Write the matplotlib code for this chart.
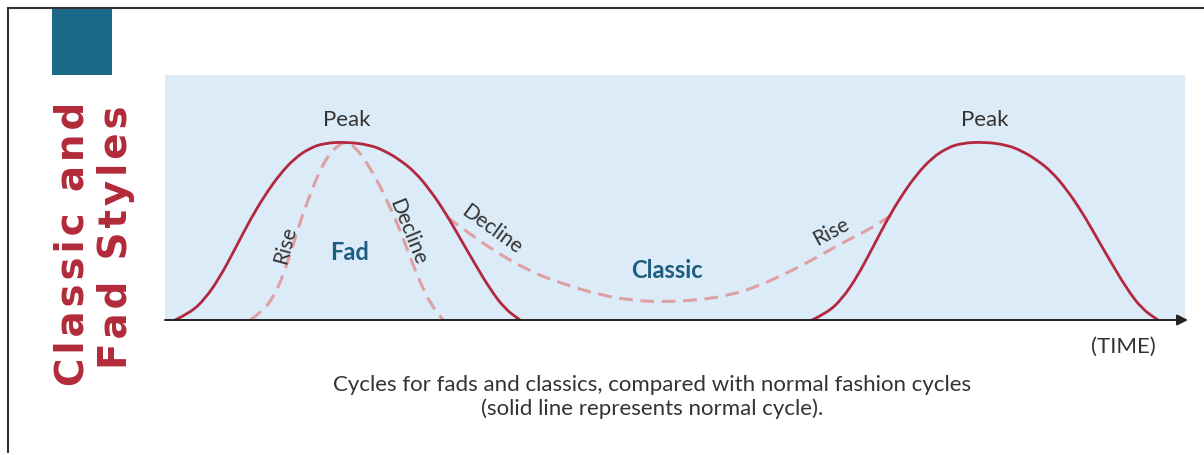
import matplotlib.pyplot as plt
from matplotlib.patches import Rectangle, PathPatch
from matplotlib.path import Path
from matplotlib.lines import Line2D

# normal cycle 1 (solid), x = time, y = level above the axis
normal1_x = [175, 190, 205, 220, 235, 250, 265, 280, 295, 310, 325, 347,
             370, 385, 400, 415, 430, 445, 460, 475, 490, 505, 520]
normal1_y = [0, 7, 21, 43, 71, 100, 125, 146, 162, 172, 177, 178,
             175, 169, 160, 148, 130, 108, 82, 56, 31, 11, 0]

# normal cycle 2 (solid)
normal2_x = [812, 827, 842, 857, 872, 887, 902, 917, 932, 947, 962, 985,
             1007, 1022, 1037, 1052, 1067, 1082, 1097, 1112, 1127, 1142, 1158]
normal2_y = [0, 7, 21, 43, 71, 100, 125, 146, 162, 172, 177, 178,
             175, 169, 160, 148, 130, 108, 82, 56, 31, 11, 0]

# fad (dashed)
fad_x = [250, 262, 275, 287, 300, 310, 320, 330, 340, 347,
         355, 365, 377, 390, 400, 410, 420, 430, 443]
fad_y = [0, 8, 25, 55, 98, 125, 150, 167, 176, 178,
         173, 160, 140, 113, 90, 63, 38, 17, 0]

# classic (dashed), leaves cycle 1 on decline, joins cycle 2 on rise
classic_x = [447, 470, 493, 527, 560, 600, 630, 660, 700, 730, 756, 785, 814, 840, 872, 893]
classic_y = [103, 86, 70, 50, 37, 25, 20, 18, 20, 25, 33, 46, 61, 76, 92, 106]

solid_col = '#b3283e'
dash_col = '#dfa0a3'
label_col = '#333333'
blue_col = '#1d5d80'
font = 'Lato'


def smooth_path(xs, ys):
    # quadratic pieces through the mid points, keeps the read points as controls
    pts = list(zip(xs, ys))
    verts = [pts[0]]
    codes = [Path.MOVETO]
    for i in range(1, len(pts) - 1):
        mid = ((pts[i][0] + pts[i + 1][0]) / 2, (pts[i][1] + pts[i + 1][1]) / 2)
        verts += [pts[i], mid]
        codes += [Path.CURVE3, Path.CURVE3]
    verts.append(pts[-1])
    codes.append(Path.LINETO)
    return Path(verts, codes)


W, H = 1204, 455
fig = plt.figure(figsize=(W / 100, H / 100), dpi=100)
fig.patch.set_facecolor('white')

# panel axes: pixels 165..1185 wide, 75..320 tall
ax = fig.add_axes([165 / W, 1 - 320 / H, 1020 / W, 245 / H])
ax.set_facecolor('#dcebf8')
ax.set_xlim(165, 1185)
ax.set_ylim(0, 245)
for s in ax.spines.values():
    s.set_visible(False)
ax.set_xticks([])
ax.set_yticks([])

for xs, ys in [(fad_x, fad_y), (classic_x, classic_y)]:
    ax.add_patch(PathPatch(smooth_path(xs, ys), fill=False, edgecolor=dash_col,
                           lw=2.2, linestyle=(0, (4.5, 2.5)), zorder=2))
for xs, ys in [(normal1_x, normal1_y), (normal2_x, normal2_y)]:
    ax.add_patch(PathPatch(smooth_path(xs, ys), fill=False, edgecolor=solid_col,
                           lw=2, zorder=3, capstyle='round'))

# time axis with arrow
ax.annotate('', xy=(1188, 0), xytext=(165, 0), annotation_clip=False,
            arrowprops=dict(arrowstyle='-|>', color='#222222', lw=1.4,
                            mutation_scale=16, shrinkA=0, shrinkB=0), zorder=4)

# labels on the curves
ax.text(347, 200, 'Peak', ha='center', va='center', fontsize=16, color=label_col, family=font)
ax.text(985, 200, 'Peak', ha='center', va='center', fontsize=16, color=label_col, family=font)
ax.text(285, 75, 'Rise', ha='center', va='center', fontsize=15, color=label_col,
        family=font, rotation=75, rotation_mode='anchor')
ax.text(350, 68, 'Fad', ha='center', va='center', fontsize=17, color=blue_col,
        family=font, weight='bold')
ax.text(408, 88, 'Decline', ha='center', va='center', fontsize=15, color=label_col,
        family=font, rotation=-68, rotation_mode='anchor')
ax.text(492, 90, 'Decline', ha='center', va='center', fontsize=15, color=label_col,
        family=font, rotation=-36, rotation_mode='anchor')
ax.text(667, 49, 'Classic', ha='center', va='center', fontsize=17, color=blue_col,
        family=font, weight='bold')
ax.text(831, 88, 'Rise', ha='center', va='center', fontsize=15, color=label_col,
        family=font, rotation=28, rotation_mode='anchor')

# frame lines
fig.add_artist(Line2D([8 / W, 1], [1 - 8 / H, 1 - 8 / H], color='#333333', lw=1.5))
fig.add_artist(Line2D([8 / W, 8 / W], [1 - 8 / H, 1 - 452 / H], color='#333333', lw=1.5))

# teal block and vertical title (letters spread with hair spaces)
fig.add_artist(Rectangle((52 / W, 1 - 75 / H), 60 / W, 67 / H,
                         transform=fig.transFigure, color='#1b6a8a', lw=0))
title1 = '\u200a'.join('Classic and')
title2 = '\u200a'.join('Fad Styles')
fig.text(73 / W, 1 - 244 / H, title1, rotation=90, ha='center', va='center',
         fontsize=28, color='#b22a3a', weight='bold', family='DejaVu Sans')
fig.text(116 / W, 1 - 237 / H, title2, rotation=90, ha='center', va='center',
         fontsize=28, color='#b22a3a', weight='bold', family='DejaVu Sans')

fig.text(1123 / W, 1 - 347 / H, '(TIME)', ha='center', va='center', fontsize=16,
         color=label_col, family=font)
fig.text(652 / W, 1 - 385 / H,
         'Cycles for fads and classics, compared with normal fashion cycles',
         ha='center', va='center', fontsize=16, color=label_col, family=font)
fig.text(652 / W, 1 - 409 / H, '(solid line represents normal cycle).',
         ha='center', va='center', fontsize=16, color=label_col, family=font)

fig.savefig('out.png', dpi=100)
